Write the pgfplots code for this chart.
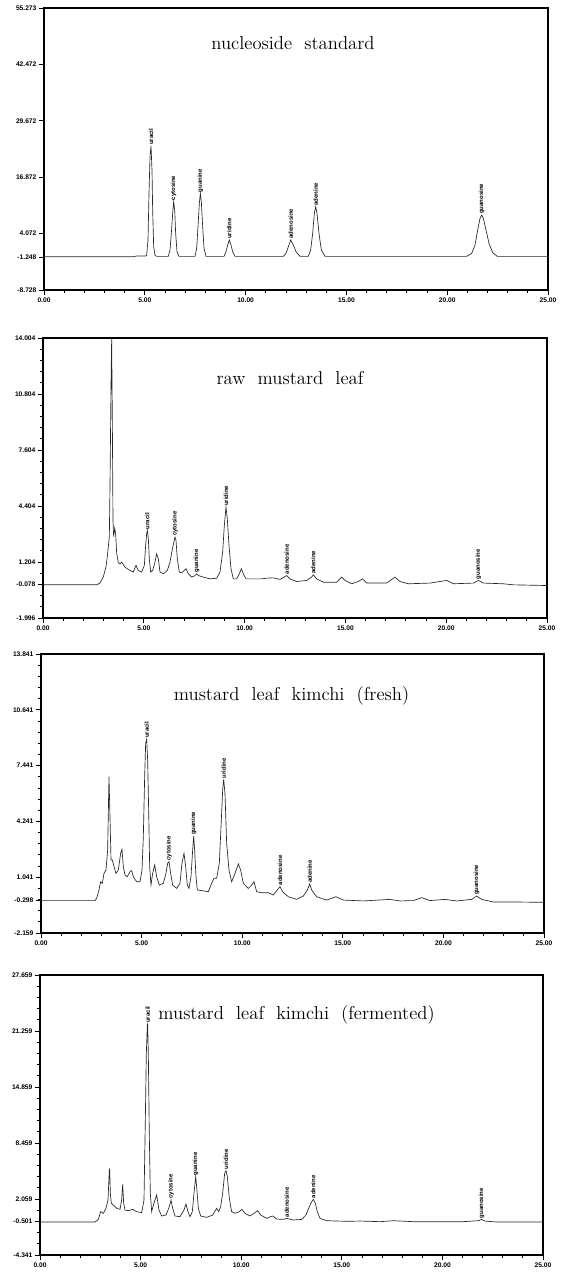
\documentclass[border=0pt]{standalone}
\usepackage{fontspec}
\setsansfont{Liberation Sans}
\usepackage{pgfplots}
\pgfplotsset{compat=1.18}

\pgfplotsset{
  chrom/.style={
    scale only axis,
    anchor=north west,
    xmin=0, xmax=25,
    xtick={0,5,10,15,20,25},
    xticklabels={0.00,5.00,10.00,15.00,20.00,25.00},
    minor x tick num=4,
    minor y tick num=4,
    tick align=outside,
    tick pos=left,
    major tick length=4pt,
    minor tick length=2.5pt,
    every tick/.style={black, line width=0.6pt},
    axis line style={line width=0.8pt},
    tick label style={font=\sffamily\bfseries\fontsize{5}{6}\selectfont, inner sep=1.5pt},
    extra y tick style={tick label style={font=\sffamily\bfseries\fontsize{5}{6}\selectfont}},
  },
  trace/.style={black!85, line width=0.5pt},
  peaklab/.style={draw=none, mark=none, nodes near coords, point meta=explicit symbolic,
    nodes near coords style={rotate=90, anchor=west, inner sep=0.8pt,
      font=\sffamily\bfseries\fontsize{4.5}{5}\selectfont}},
}
\tikzset{ttl/.style={font=\fontsize{14}{16}\selectfont, anchor=center}}

\begin{document}
\begin{tikzpicture}
\useasboundingbox (0,0) rectangle (423pt,-955.5pt);

% ---------- nucleoside standard ----------
\begin{axis}[chrom, at={(33pt,-6pt)}, width=378pt, height=211.5pt,
  ymin=-8.728, ymax=55.273,
  ytick={-8.728,4.072,16.872,29.672,42.472,55.273},
  yticklabels={-8.728,4.072,16.872,29.672,42.472,55.273},
  extra y ticks={-1.248}, extra y tick labels={-1.248}]
\addplot[trace] coordinates {
(0,-1.17) (4.431,-1.17) (4.60,-1.01) (5.060,-1.01) (5.093,-0.79) (5.159,2.62) (5.209,13.21)
(5.258,21.53) (5.308,23.95) (5.357,18.50) (5.390,9.43) (5.440,1.10) (5.506,-0.86) (5.589,-1.09)
(6.168,-1.09) (6.250,0.35) (6.316,4.13) (6.382,8.67) (6.432,11.32) (6.482,9.43) (6.531,4.13)
(6.597,-0.03) (6.697,-1.09) (7.490,-1.09) (7.573,0.73) (7.639,5.64) (7.705,10.94) (7.755,13.21)
(7.804,11.32) (7.871,5.64) (7.937,0.73) (8.036,-1.09) (8.929,-1.09) (9.028,-0.03) (9.111,1.48)
(9.193,2.62) (9.276,1.48) (9.359,-0.03) (9.474,-1.09) (11.872,-1.09) (12.004,-0.41) (12.120,1.10)
(12.236,2.62) (12.368,1.48) (12.500,-0.03) (12.699,-1.09) (13.112,-1.09) (13.228,0.35) (13.327,4.13)
(13.410,8.67) (13.476,10.18) (13.542,8.67) (13.641,4.13) (13.757,0.35) (13.939,-1.09) (20.966,-1.09)
(21.214,-0.41) (21.379,1.48) (21.512,4.89) (21.627,7.53) (21.710,8.29) (21.793,7.53) (21.925,4.89)
(22.074,1.86) (22.256,-0.26) (22.487,-1.09) (25,-1.09)
};
\addplot[peaklab] table[x=t, y=v, meta=lab] {
t v lab
5.308 23.95 uracil
6.432 11.32 cytosine
7.755 13.21 guanine
9.193 2.62 uridine
12.236 2.62 adenosine
13.476 10.18 adenine
21.710 8.29 guanosine
};
\node[ttl] at (rel axis cs:0.494,0.876) {nucleoside\ \ standard};
\end{axis}

% ---------- raw mustard leaf ----------
\begin{axis}[chrom, at={(32.25pt,-253.5pt)}, width=378pt, height=210pt,
  ymin=-1.996, ymax=14.004,
  ytick={-1.996,1.204,4.404,7.604,10.804,14.004},
  yticklabels={-1.996,1.204,4.404,7.604,10.804,14.004},
  extra y ticks={-0.078}, extra y tick labels={-0.078}]
\addplot[trace] coordinates {
(0,-0.10) (2.662,-0.10) (2.827,0.00) (2.993,0.36) (3.125,0.93) (3.208,1.70) (3.290,2.65)
(3.323,5.51) (3.373,11.22) (3.406,13.98) (3.439,9.32) (3.472,3.60) (3.505,2.65) (3.555,3.13)
(3.604,2.84) (3.654,1.70) (3.737,1.16) (3.819,1.10) (3.902,1.20) (4.067,0.91) (4.315,0.72)
(4.481,0.63) (4.613,1.01) (4.728,0.72) (4.894,0.63) (5.026,1.01) (5.092,2.15) (5.142,2.82)
(5.175,3.01) (5.225,2.53) (5.274,1.39) (5.340,0.63) (5.440,0.72) (5.555,1.20) (5.638,1.67)
(5.721,1.39) (5.803,0.63) (5.969,0.53) (6.167,0.72) (6.299,1.20) (6.432,2.03) (6.514,2.45)
(6.547,2.63) (6.597,2.45) (6.663,1.39) (6.762,0.63) (6.878,0.59) (7.093,0.82) (7.209,0.53)
(7.374,0.34) (7.539,0.43) (7.622,0.53) (7.705,0.43) (7.953,0.34) (8.283,0.24) (8.614,0.28)
(8.779,0.63) (8.912,1.77) (8.994,3.29) (9.077,4.34) (9.143,3.67) (9.226,2.15) (9.325,0.82)
(9.441,0.24) (9.606,0.24) (9.739,0.53) (9.838,0.82) (9.937,0.53) (10.069,0.24) (10.433,0.24)
(10.846,0.24) (11.094,0.28) (11.425,0.30) (11.756,0.21) (11.954,0.34) (12.086,0.43) (12.252,0.24)
(12.582,0.09) (13.078,0.15) (13.326,0.34) (13.409,0.47) (13.575,0.24) (13.905,0.05) (14.567,0.05)
(14.815,0.34) (14.980,0.15) (15.311,-0.04) (15.641,0.09) (15.856,0.24) (16.055,0.00) (17.047,0.00)
(17.460,0.34) (17.708,0.09) (18.122,-0.04) (19.196,0.00) (20.023,0.15) (20.354,-0.04) (21.346,0.00)
(21.594,0.15) (21.842,0.00) (22.834,-0.04) (23.330,-0.10) (25,-0.14)
};
\addplot[peaklab] table[x=t, y=v, meta=lab] {
t v lab
5.175 3.01 uracil
6.547 2.63 cytosine
7.622 0.53 guanine
9.077 4.34 uridine
12.086 0.43 adenosine
13.409 0.47 adenine
21.594 0.15 guanosine
};
\node[ttl] at (rel axis cs:0.49,0.857) {raw\ \ mustard\ \ leaf};
\end{axis}

% ---------- mustard leaf kimchi (fresh) ----------
\begin{axis}[chrom, at={(30.75pt,-490.5pt)}, width=377.25pt, height=209.25pt,
  ymin=-2.159, ymax=13.841,
  ytick={-2.159,1.041,4.241,7.441,10.641,13.841},
  yticklabels={-2.159,1.041,4.241,7.441,10.641,13.841},
  extra y ticks={-0.298}, extra y tick labels={-0.298}]
\addplot[trace] coordinates {
(0,-0.30) (2.684,-0.30) (2.766,-0.17) (2.882,0.31) (2.965,0.78) (3.048,0.69) (3.131,1.26)
(3.230,1.45) (3.313,2.60) (3.379,6.81) (3.429,4.51) (3.479,2.03) (3.545,2.03) (3.628,1.65)
(3.727,1.26) (3.843,1.45) (3.959,2.41) (4.025,2.64) (4.092,1.65) (4.175,1.17) (4.291,1.07)
(4.423,1.36) (4.506,1.42) (4.589,1.07) (4.755,0.78) (4.920,0.78) (5.020,1.45) (5.086,3.37)
(5.152,6.81) (5.202,8.72) (5.251,8.95) (5.301,7.76) (5.351,4.89) (5.401,1.65) (5.467,0.59)
(5.550,1.26) (5.649,1.74) (5.749,1.07) (5.881,0.59) (6.080,0.69) (6.212,1.26) (6.295,1.84)
(6.361,1.93) (6.444,1.26) (6.544,0.59) (6.742,0.40) (6.908,0.69) (7.008,1.84) (7.107,2.41)
(7.190,1.65) (7.273,0.59) (7.355,0.40) (7.455,1.07) (7.538,2.60) (7.588,3.40) (7.637,2.60)
(7.703,1.07) (7.770,0.31) (7.985,0.27) (8.316,0.21) (8.482,0.69) (8.598,0.98) (8.731,0.98)
(8.863,1.84) (8.962,4.32) (9.029,6.04) (9.079,6.65) (9.145,5.85) (9.228,2.98) (9.344,1.45)
(9.476,0.78) (9.642,1.26) (9.808,1.80) (9.923,1.45) (10.056,0.69) (10.305,0.40) (10.470,0.59)
(10.586,0.78) (10.719,0.21) (10.967,0.15) (11.299,0.15) (11.547,0.02) (11.746,0.31) (11.878,0.50)
(12.011,0.21) (12.293,-0.08) (12.707,-0.23) (13.038,-0.04) (13.237,0.31) (13.353,0.65) (13.452,0.31)
(13.701,-0.08) (14.198,-0.27) (14.662,-0.08) (15.026,-0.27) (16.020,-0.32) (17.346,-0.23)
(17.843,-0.32) (18.505,-0.30) (18.920,-0.13) (19.334,-0.30) (20.079,-0.23) (20.659,-0.32)
(21.405,-0.23) (21.653,-0.04) (21.902,-0.23) (22.482,-0.38) (23.476,-0.38) (25,-0.40)
};
\addplot[peaklab] table[x=t, y=v, meta=lab] {
t v lab
5.251 8.95 uracil
6.361 1.93 cytosine
7.588 3.40 guanine
9.079 6.65 uridine
11.878 0.50 adenosine
13.353 0.65 adenine
21.653 -0.04 guanosine
};
\node[ttl] at (rel axis cs:0.498,0.85) {mustard\ \ leaf\ \ kimchi\ \ (fresh)};
\end{axis}

% ---------- mustard leaf kimchi (fermented) ----------
\begin{axis}[chrom, at={(30pt,-731.25pt)}, width=377.25pt, height=210pt,
  ymin=-4.341, ymax=27.659,
  ytick={-4.341,2.059,8.459,14.859,21.259,27.659},
  yticklabels={-4.341,2.059,8.459,14.859,21.259,27.659},
  extra y ticks={-0.501}, extra y tick labels={-0.501}]
\addplot[trace] coordinates {
(0,-0.57) (2.734,-0.57) (2.899,-0.27) (3.015,0.61) (3.148,0.42) (3.280,0.99) (3.380,1.95)
(3.446,5.37) (3.462,5.45) (3.496,2.71) (3.545,1.56) (3.645,1.37) (3.810,0.99) (3.976,0.88)
(4.059,1.95) (4.109,3.73) (4.158,1.56) (4.225,0.80) (4.390,0.73) (4.606,0.88) (4.804,0.61)
(5.053,0.50) (5.169,1.95) (5.235,11.09) (5.285,18.71) (5.335,21.94) (5.351,22.06) (5.384,18.71)
(5.434,9.18) (5.484,2.71) (5.550,0.61) (5.633,1.37) (5.799,2.52) (5.915,0.80) (6.047,0.12)
(6.262,0.23) (6.395,0.99) (6.494,1.75) (6.511,1.95) (6.594,0.99) (6.710,0.12) (6.958,0.04)
(7.157,0.80) (7.256,1.49) (7.356,0.61) (7.455,0.04) (7.571,0.61) (7.654,2.71) (7.737,4.61)
(7.787,3.47) (7.870,0.99) (7.985,0.12) (8.284,-0.04) (8.582,0.23) (8.681,0.61) (8.781,0.99)
(8.880,0.61) (8.979,1.18) (9.079,2.71) (9.178,4.99) (9.245,5.30) (9.311,4.61) (9.410,2.14)
(9.526,0.61) (9.692,0.42) (9.907,0.61) (10.040,0.88) (10.189,0.42) (10.437,0.12) (10.686,0.50)
(10.818,0.73) (10.968,0.23) (11.265,-0.15) (11.464,0.04) (11.564,0.12) (11.763,-0.23) (12.094,-0.27)
(12.260,-0.15) (12.591,-0.34) (13.005,-0.27) (13.220,0.23) (13.386,1.18) (13.502,1.75) (13.585,2.02)
(13.685,1.56) (13.784,0.61) (13.917,-0.15) (14.248,-0.42) (15.242,-0.49) (15.905,-0.46)
(16.899,-0.53) (17.561,-0.42) (18.555,-0.53) (21.040,-0.53) (21.786,-0.42) (21.952,-0.27)
(22.117,-0.46) (22.697,-0.57) (25,-0.57)
};
\addplot[peaklab] table[x=t, y=v, meta=lab] {
t v lab
5.351 22.06 uracil
6.511 1.95 cytosine
7.737 4.61 guanine
9.245 5.30 uridine
12.260 -0.15 adenosine
13.585 2.02 adenine
21.952 -0.27 guanosine
};
\node[ttl] at (rel axis cs:0.51,0.857) {mustard\ \ leaf\ \ kimchi\ \ (fermented)};
\end{axis}
\end{tikzpicture}
\end{document}
